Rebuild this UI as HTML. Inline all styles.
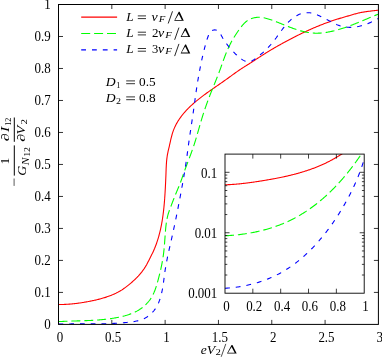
<!DOCTYPE html>
<html><head><meta charset="utf-8"><title>plot</title>
<style>
html,body{margin:0;padding:0;background:#fff;}
body{width:382px;height:357px;overflow:hidden;}
svg{display:block;}
text{font-family:"Liberation Serif",serif;font-size:13.8px;fill:#000;}
.it{font-style:italic;}
.sub{font-size:9px;}
</style></head><body>
<svg style="will-change:transform" width="382" height="357" viewBox="0 0 382 357">
<rect width="382" height="357" fill="#fff"/>
<defs>
<clipPath id="cm"><rect x="58.5" y="4.5" width="319.9" height="319.9"/></clipPath>
<clipPath id="ci"><rect x="225.0" y="154.1" width="139.2" height="139.1"/></clipPath>
</defs>
<!-- main curves -->
<g fill="none" stroke-width="1.1" clip-path="url(#cm)">
<path d="M58.48,304.48 L59.30,304.49 L60.12,304.49 L60.93,304.49 L61.75,304.48 L62.56,304.46 L63.37,304.44 L64.18,304.42 L64.99,304.38 L65.79,304.35 L66.60,304.31 L67.41,304.26 L68.21,304.21 L69.01,304.15 L69.82,304.09 L70.62,304.03 L71.42,303.96 L72.22,303.89 L73.02,303.81 L73.82,303.73 L74.61,303.64 L75.41,303.55 L76.21,303.45 L77.00,303.35 L77.80,303.25 L78.59,303.14 L79.39,303.03 L80.18,302.92 L80.98,302.80 L81.77,302.67 L82.57,302.55 L83.36,302.42 L84.15,302.29 L84.95,302.15 L85.74,302.01 L86.53,301.87 L87.33,301.72 L88.12,301.58 L88.91,301.42 L89.71,301.27 L90.50,301.11 L91.30,300.95 L92.09,300.79 L92.88,300.62 L93.68,300.45 L94.47,300.28 L95.26,300.10 L96.06,299.92 L96.85,299.73 L97.64,299.54 L98.43,299.35 L99.21,299.15 L100.00,298.94 L100.78,298.73 L101.56,298.52 L102.35,298.30 L103.12,298.07 L103.90,297.84 L104.67,297.60 L105.45,297.36 L106.22,297.11 L106.98,296.85 L107.75,296.59 L108.51,296.32 L109.26,296.04 L110.02,295.76 L110.77,295.47 L111.52,295.17 L112.26,294.86 L113.00,294.55 L113.73,294.22 L114.47,293.89 L115.19,293.55 L115.92,293.21 L116.63,292.85 L117.35,292.49 L118.06,292.11 L118.76,291.73 L119.46,291.34 L120.15,290.93 L120.84,290.52 L121.53,290.10 L122.20,289.67 L122.88,289.23 L123.54,288.78 L124.20,288.32 L124.86,287.85 L125.51,287.38 L126.16,286.90 L126.81,286.41 L127.44,285.92 L128.08,285.41 L128.71,284.91 L129.34,284.39 L129.96,283.87 L130.58,283.35 L131.19,282.82 L131.81,282.29 L132.41,281.75 L133.02,281.21 L133.62,280.66 L134.21,280.11 L134.80,279.55 L135.39,278.99 L135.97,278.43 L136.54,277.85 L137.10,277.28 L137.66,276.69 L138.22,276.11 L138.76,275.51 L139.30,274.91 L139.83,274.31 L140.36,273.69 L140.87,273.07 L141.38,272.45 L141.88,271.82 L142.36,271.18 L142.84,270.54 L143.31,269.89 L143.77,269.23 L144.23,268.57 L144.67,267.90 L145.10,267.22 L145.52,266.54 L145.93,265.85 L146.33,265.16 L146.73,264.46 L147.11,263.75 L147.49,263.04 L147.86,262.33 L148.23,261.61 L148.60,260.89 L148.96,260.17 L149.33,259.45 L149.69,258.73 L150.06,258.00 L150.43,257.28 L150.79,256.55 L151.16,255.82 L151.52,255.09 L151.88,254.36 L152.24,253.63 L152.59,252.90 L152.94,252.16 L153.28,251.43 L153.61,250.69 L153.93,249.95 L154.25,249.20 L154.57,248.46 L154.87,247.71 L155.17,246.96 L155.47,246.21 L155.76,245.46 L156.04,244.70 L156.32,243.94 L156.59,243.19 L156.85,242.42 L157.11,241.66 L157.36,240.90 L157.61,240.13 L157.85,239.37 L158.09,238.60 L158.32,237.83 L158.55,237.06 L158.77,236.28 L158.98,235.51 L159.19,234.73 L159.40,233.96 L159.60,233.18 L159.79,232.40 L159.99,231.62 L160.17,230.83 L160.35,230.05 L160.53,229.27 L160.70,228.48 L160.87,227.69 L161.04,226.90 L161.20,226.11 L161.35,225.32 L161.50,224.53 L161.65,223.74 L161.79,222.95 L161.93,222.15 L162.07,221.36 L162.20,220.56 L162.33,219.77 L162.46,218.97 L162.58,218.17 L162.70,217.37 L162.81,216.57 L162.92,215.77 L163.03,214.97 L163.14,214.17 L163.24,213.37 L163.34,212.57 L163.43,211.76 L163.53,210.96 L163.62,210.16 L163.71,209.35 L163.79,208.55 L163.88,207.74 L163.96,206.94 L164.03,206.13 L164.11,205.33 L164.18,204.52 L164.26,203.72 L164.33,202.91 L164.39,202.10 L164.46,201.30 L164.52,200.49 L164.58,199.68 L164.65,198.88 L164.70,198.07 L164.76,197.27 L164.82,196.46 L164.87,195.66 L164.92,194.85 L164.98,194.05 L165.03,193.24 L165.08,192.44 L165.12,191.63 L165.17,190.83 L165.22,190.02 L165.26,189.22 L165.31,188.42 L165.35,187.61 L165.39,186.81 L165.43,186.01 L165.47,185.20 L165.51,184.40 L165.55,183.60 L165.59,182.79 L165.63,181.99 L165.66,181.19 L165.70,180.38 L165.73,179.58 L165.77,178.77 L165.80,177.97 L165.83,177.16 L165.87,176.36 L165.90,175.55 L165.93,174.74 L165.96,173.94 L165.99,173.13 L166.02,172.32 L166.04,171.51 L166.07,170.70 L166.10,169.89 L166.13,169.08 L166.16,168.28 L166.20,167.47 L166.24,166.66 L166.28,165.85 L166.32,165.04 L166.37,164.23 L166.42,163.43 L166.48,162.62 L166.54,161.82 L166.61,161.01 L166.69,160.21 L166.77,159.41 L166.86,158.61 L166.96,157.81 L167.07,157.01 L167.18,156.22 L167.31,155.43 L167.44,154.64 L167.59,153.85 L167.74,153.06 L167.91,152.28 L168.08,151.49 L168.25,150.71 L168.44,149.93 L168.62,149.15 L168.80,148.37 L168.99,147.59 L169.17,146.80 L169.36,146.02 L169.53,145.23 L169.71,144.45 L169.88,143.66 L170.06,142.87 L170.23,142.08 L170.40,141.29 L170.58,140.50 L170.76,139.71 L170.94,138.92 L171.13,138.13 L171.33,137.34 L171.53,136.56 L171.74,135.77 L171.95,134.99 L172.18,134.21 L172.41,133.44 L172.65,132.67 L172.90,131.90 L173.17,131.14 L173.44,130.38 L173.73,129.63 L174.03,128.88 L174.34,128.14 L174.66,127.40 L174.99,126.67 L175.34,125.95 L175.69,125.23 L176.06,124.52 L176.44,123.82 L176.83,123.12 L177.23,122.42 L177.64,121.73 L178.05,121.05 L178.48,120.37 L178.92,119.70 L179.37,119.03 L179.82,118.37 L180.29,117.71 L180.76,117.06 L181.24,116.41 L181.73,115.77 L182.23,115.14 L182.73,114.51 L183.25,113.88 L183.77,113.26 L184.29,112.65 L184.83,112.04 L185.37,111.43 L185.91,110.83 L186.47,110.24 L187.02,109.65 L187.59,109.06 L188.16,108.48 L188.73,107.91 L189.31,107.33 L189.89,106.77 L190.48,106.21 L191.08,105.65 L191.67,105.10 L192.28,104.55 L192.88,104.00 L193.49,103.47 L194.10,102.93 L194.71,102.40 L195.33,101.88 L195.95,101.35 L196.57,100.84 L197.20,100.32 L197.82,99.82 L198.45,99.31 L199.08,98.81 L199.72,98.31 L200.35,97.82 L200.99,97.33 L201.63,96.84 L202.27,96.35 L202.91,95.87 L203.55,95.39 L204.20,94.91 L204.84,94.44 L205.49,93.97 L206.14,93.50 L206.79,93.03 L207.44,92.56 L208.10,92.10 L208.75,91.63 L209.41,91.17 L210.06,90.71 L210.72,90.25 L211.38,89.79 L212.04,89.33 L212.70,88.87 L213.36,88.41 L214.02,87.95 L214.69,87.49 L215.35,87.03 L216.02,86.57 L216.68,86.11 L217.35,85.66 L218.01,85.20 L218.68,84.74 L219.34,84.28 L220.01,83.82 L220.67,83.35 L221.34,82.89 L222.00,82.43 L222.66,81.97 L223.33,81.50 L223.99,81.04 L224.65,80.57 L225.31,80.11 L225.97,79.64 L226.63,79.17 L227.29,78.70 L227.94,78.23 L228.60,77.76 L229.25,77.28 L229.90,76.81 L230.55,76.33 L231.21,75.86 L231.86,75.38 L232.51,74.91 L233.16,74.43 L233.81,73.96 L234.46,73.49 L235.12,73.02 L235.77,72.55 L236.43,72.08 L237.09,71.62 L237.75,71.16 L238.41,70.70 L239.07,70.25 L239.74,69.80 L240.41,69.35 L241.08,68.91 L241.76,68.46 L242.43,68.03 L243.11,67.59 L243.79,67.16 L244.48,66.73 L245.16,66.30 L245.84,65.87 L246.53,65.44 L247.21,65.01 L247.89,64.59 L248.58,64.16 L249.26,63.73 L249.94,63.30 L250.62,62.86 L251.30,62.43 L251.98,61.99 L252.66,61.55 L253.34,61.12 L254.01,60.68 L254.69,60.24 L255.36,59.80 L256.04,59.35 L256.71,58.91 L257.39,58.47 L258.06,58.03 L258.74,57.59 L259.42,57.15 L260.09,56.71 L260.77,56.27 L261.45,55.84 L262.13,55.40 L262.80,54.97 L263.49,54.54 L264.17,54.11 L264.85,53.68 L265.53,53.25 L266.22,52.83 L266.91,52.40 L267.59,51.98 L268.28,51.56 L268.97,51.14 L269.66,50.72 L270.35,50.31 L271.04,49.89 L271.74,49.48 L272.43,49.07 L273.13,48.66 L273.82,48.25 L274.52,47.85 L275.22,47.44 L275.92,47.04 L276.62,46.64 L277.32,46.24 L278.02,45.84 L278.72,45.44 L279.43,45.05 L280.13,44.65 L280.84,44.26 L281.54,43.87 L282.25,43.48 L282.96,43.09 L283.66,42.70 L284.37,42.32 L285.08,41.93 L285.79,41.55 L286.50,41.16 L287.22,40.78 L287.93,40.40 L288.64,40.02 L289.35,39.65 L290.07,39.27 L290.78,38.90 L291.50,38.52 L292.22,38.15 L292.93,37.78 L293.65,37.41 L294.37,37.05 L295.09,36.68 L295.81,36.32 L296.53,35.96 L297.25,35.59 L297.98,35.24 L298.70,34.88 L299.42,34.52 L300.15,34.17 L300.87,33.81 L301.60,33.46 L302.33,33.11 L303.06,32.77 L303.79,32.42 L304.52,32.08 L305.25,31.74 L305.98,31.40 L306.71,31.06 L307.44,30.72 L308.18,30.39 L308.91,30.06 L309.65,29.72 L310.38,29.40 L311.12,29.07 L311.86,28.75 L312.60,28.42 L313.34,28.10 L314.08,27.79 L314.82,27.47 L315.56,27.16 L316.31,26.84 L317.05,26.53 L317.80,26.23 L318.54,25.92 L319.29,25.62 L320.04,25.32 L320.79,25.02 L321.54,24.73 L322.29,24.43 L323.04,24.14 L323.79,23.85 L324.55,23.57 L325.30,23.28 L326.06,23.00 L326.81,22.72 L327.57,22.45 L328.33,22.17 L329.09,21.90 L329.85,21.63 L330.61,21.37 L331.37,21.10 L332.14,20.84 L332.90,20.59 L333.67,20.33 L334.43,20.08 L335.20,19.83 L335.97,19.58 L336.74,19.34 L337.51,19.09 L338.28,18.86 L339.06,18.62 L339.83,18.38 L340.60,18.15 L341.38,17.92 L342.15,17.69 L342.93,17.47 L343.70,17.24 L344.48,17.01 L345.26,16.79 L346.03,16.56 L346.81,16.34 L347.58,16.11 L348.36,15.89 L349.13,15.66 L349.91,15.44 L350.68,15.21 L351.45,14.98 L352.23,14.76 L353.00,14.53 L353.77,14.31 L354.55,14.09 L355.32,13.87 L356.10,13.66 L356.88,13.46 L357.66,13.26 L358.44,13.07 L359.23,12.89 L360.01,12.72 L360.80,12.55 L361.59,12.40 L362.38,12.25 L363.18,12.11 L363.97,11.97 L364.77,11.85 L365.57,11.73 L366.37,11.61 L367.17,11.50 L367.97,11.39 L368.78,11.29 L369.58,11.19 L370.38,11.09 L371.19,11.00 L371.99,10.91 L372.79,10.82 L373.60,10.73 L374.40,10.64 L375.20,10.55 L376.00,10.47 L376.80,10.38 L377.60,10.29 L378.40,10.20" stroke="#f00"/>
<path d="M58.49,321.62 L59.38,321.57 L60.28,321.52 L61.17,321.48 L62.06,321.44 L62.95,321.40 L63.85,321.36 L64.74,321.32 L65.63,321.29 L66.52,321.25 L67.41,321.22 L68.31,321.19 L69.20,321.16 L70.09,321.13 L70.98,321.10 L71.87,321.07 L72.76,321.05 L73.65,321.02 L74.54,320.99 L75.43,320.97 L76.32,320.94 L77.21,320.92 L78.10,320.89 L78.98,320.86 L79.87,320.84 L80.76,320.81 L81.65,320.78 L82.54,320.75 L83.43,320.72 L84.31,320.69 L85.20,320.66 L86.09,320.62 L86.98,320.59 L87.86,320.55 L88.75,320.51 L89.64,320.47 L90.52,320.43 L91.41,320.38 L92.30,320.33 L93.18,320.28 L94.07,320.23 L94.95,320.18 L95.84,320.12 L96.72,320.06 L97.61,320.00 L98.49,319.93 L99.38,319.86 L100.26,319.78 L101.15,319.71 L102.03,319.63 L102.92,319.54 L103.80,319.45 L104.68,319.36 L105.57,319.26 L106.45,319.16 L107.34,319.06 L108.22,318.95 L109.10,318.83 L109.98,318.71 L110.87,318.59 L111.75,318.46 L112.63,318.32 L113.52,318.18 L114.40,318.04 L115.28,317.89 L116.16,317.73 L117.04,317.56 L117.93,317.40 L118.81,317.22 L119.69,317.04 L120.56,316.84 L121.44,316.65 L122.31,316.44 L123.18,316.22 L124.05,316.00 L124.92,315.77 L125.78,315.52 L126.64,315.27 L127.49,315.00 L128.34,314.73 L129.18,314.44 L130.02,314.14 L130.85,313.83 L131.68,313.51 L132.50,313.17 L133.31,312.82 L134.12,312.46 L134.92,312.09 L135.71,311.69 L136.50,311.29 L137.28,310.87 L138.04,310.43 L138.80,309.98 L139.55,309.51 L140.29,309.02 L141.02,308.52 L141.74,308.00 L142.45,307.46 L143.15,306.91 L143.83,306.34 L144.51,305.75 L145.17,305.15 L145.81,304.53 L146.44,303.90 L147.06,303.25 L147.66,302.59 L148.24,301.92 L148.81,301.23 L149.36,300.53 L149.90,299.81 L150.41,299.09 L150.90,298.35 L151.38,297.60 L151.83,296.84 L152.27,296.07 L152.69,295.29 L153.09,294.50 L153.47,293.70 L153.84,292.90 L154.19,292.08 L154.53,291.26 L154.86,290.43 L155.17,289.60 L155.47,288.76 L155.76,287.92 L156.04,287.07 L156.32,286.21 L156.58,285.36 L156.84,284.50 L157.09,283.64 L157.34,282.77 L157.58,281.91 L157.82,281.04 L158.05,280.18 L158.28,279.31 L158.51,278.45 L158.74,277.58 L158.96,276.72 L159.19,275.85 L159.40,274.99 L159.62,274.12 L159.83,273.26 L160.04,272.39 L160.25,271.52 L160.45,270.66 L160.65,269.79 L160.84,268.92 L161.04,268.06 L161.22,267.19 L161.41,266.32 L161.59,265.45 L161.76,264.58 L161.93,263.71 L162.10,262.84 L162.26,261.97 L162.42,261.09 L162.57,260.22 L162.72,259.35 L162.86,258.47 L163.00,257.59 L163.13,256.72 L163.25,255.84 L163.38,254.96 L163.49,254.08 L163.60,253.20 L163.71,252.31 L163.81,251.43 L163.90,250.54 L164.00,249.66 L164.08,248.77 L164.17,247.89 L164.25,247.00 L164.33,246.11 L164.40,245.22 L164.48,244.33 L164.55,243.44 L164.62,242.55 L164.68,241.66 L164.75,240.77 L164.81,239.88 L164.88,238.99 L164.94,238.10 L165.00,237.21 L165.07,236.31 L165.13,235.42 L165.20,234.53 L165.26,233.64 L165.33,232.75 L165.40,231.86 L165.47,230.97 L165.54,230.08 L165.62,229.20 L165.70,228.31 L165.78,227.42 L165.88,226.54 L165.97,225.65 L166.08,224.77 L166.19,223.89 L166.31,223.01 L166.44,222.13 L166.58,221.26 L166.73,220.39 L166.88,219.52 L167.06,218.65 L167.24,217.78 L167.43,216.92 L167.64,216.06 L167.86,215.20 L168.10,214.35 L168.35,213.50 L168.62,212.65 L168.90,211.80 L169.18,210.96 L169.48,210.12 L169.79,209.28 L170.10,208.44 L170.41,207.60 L170.73,206.77 L171.05,205.93 L171.37,205.10 L171.68,204.26 L172.00,203.43 L172.32,202.60 L172.64,201.76 L172.96,200.93 L173.28,200.10 L173.61,199.27 L173.93,198.44 L174.26,197.61 L174.59,196.79 L174.92,195.96 L175.26,195.14 L175.59,194.31 L175.93,193.49 L176.28,192.67 L176.62,191.85 L176.96,191.03 L177.31,190.21 L177.65,189.39 L178.00,188.57 L178.34,187.75 L178.68,186.93 L179.01,186.10 L179.35,185.28 L179.68,184.46 L180.00,183.63 L180.32,182.80 L180.64,181.97 L180.95,181.13 L181.25,180.30 L181.55,179.46 L181.85,178.62 L182.15,177.78 L182.44,176.94 L182.73,176.10 L183.03,175.26 L183.32,174.42 L183.61,173.58 L183.90,172.74 L184.20,171.90 L184.50,171.06 L184.80,170.22 L185.10,169.38 L185.40,168.54 L185.71,167.71 L186.02,166.87 L186.33,166.04 L186.64,165.20 L186.95,164.37 L187.26,163.54 L187.58,162.70 L187.89,161.87 L188.21,161.04 L188.52,160.20 L188.84,159.37 L189.15,158.54 L189.47,157.70 L189.78,156.87 L190.09,156.04 L190.41,155.20 L190.72,154.37 L191.02,153.54 L191.33,152.70 L191.63,151.86 L191.94,151.03 L192.24,150.19 L192.53,149.35 L192.83,148.51 L193.12,147.67 L193.40,146.83 L193.69,145.99 L193.97,145.14 L194.24,144.30 L194.52,143.45 L194.79,142.60 L195.05,141.75 L195.32,140.90 L195.58,140.05 L195.84,139.20 L196.09,138.35 L196.35,137.50 L196.60,136.64 L196.85,135.79 L197.10,134.93 L197.34,134.08 L197.59,133.22 L197.84,132.37 L198.08,131.51 L198.33,130.66 L198.57,129.80 L198.81,128.94 L199.06,128.09 L199.30,127.23 L199.55,126.37 L199.79,125.52 L200.04,124.66 L200.29,123.81 L200.54,122.95 L200.79,122.10 L201.04,121.24 L201.29,120.39 L201.55,119.54 L201.80,118.68 L202.06,117.83 L202.33,116.98 L202.59,116.13 L202.86,115.28 L203.13,114.43 L203.40,113.59 L203.68,112.74 L203.96,111.89 L204.24,111.05 L204.52,110.20 L204.80,109.36 L205.09,108.52 L205.38,107.68 L205.67,106.83 L205.97,105.99 L206.26,105.15 L206.56,104.32 L206.86,103.48 L207.16,102.64 L207.47,101.80 L207.77,100.97 L208.08,100.13 L208.39,99.30 L208.71,98.47 L209.02,97.63 L209.34,96.80 L209.65,95.97 L209.97,95.14 L210.30,94.31 L210.62,93.48 L210.94,92.66 L211.27,91.83 L211.60,91.00 L211.93,90.18 L212.26,89.35 L212.59,88.53 L212.93,87.70 L213.26,86.88 L213.60,86.06 L213.94,85.24 L214.27,84.41 L214.61,83.59 L214.95,82.77 L215.28,81.95 L215.62,81.12 L215.96,80.30 L216.29,79.48 L216.62,78.65 L216.95,77.83 L217.28,77.00 L217.61,76.17 L217.93,75.34 L218.25,74.51 L218.57,73.68 L218.89,72.85 L219.20,72.01 L219.51,71.18 L219.82,70.34 L220.12,69.50 L220.43,68.66 L220.73,67.82 L221.03,66.98 L221.33,66.14 L221.63,65.30 L221.93,64.46 L222.22,63.61 L222.52,62.77 L222.82,61.93 L223.12,61.09 L223.43,60.25 L223.73,59.41 L224.04,58.58 L224.35,57.74 L224.66,56.91 L224.98,56.07 L225.30,55.24 L225.62,54.41 L225.94,53.59 L226.28,52.76 L226.61,51.94 L226.95,51.12 L227.30,50.31 L227.65,49.49 L228.01,48.68 L228.38,47.88 L228.75,47.07 L229.13,46.27 L229.52,45.48 L229.91,44.69 L230.31,43.90 L230.72,43.12 L231.14,42.33 L231.56,41.56 L231.99,40.78 L232.43,40.01 L232.87,39.24 L233.32,38.48 L233.77,37.71 L234.24,36.95 L234.71,36.20 L235.18,35.44 L235.67,34.69 L236.16,33.94 L236.65,33.19 L237.15,32.45 L237.66,31.71 L238.18,30.97 L238.70,30.23 L239.23,29.49 L239.76,28.76 L240.30,28.03 L240.85,27.30 L241.41,26.58 L241.97,25.88 L242.55,25.18 L243.14,24.51 L243.75,23.85 L244.37,23.21 L245.01,22.59 L245.66,22.00 L246.33,21.44 L247.03,20.90 L247.74,20.40 L248.48,19.94 L249.23,19.51 L250.02,19.13 L250.82,18.78 L251.64,18.47 L252.47,18.19 L253.32,17.95 L254.18,17.75 L255.06,17.59 L255.93,17.46 L256.82,17.37 L257.71,17.32 L258.59,17.30 L259.48,17.31 L260.37,17.35 L261.26,17.43 L262.14,17.54 L263.02,17.67 L263.90,17.83 L264.78,18.01 L265.66,18.21 L266.53,18.43 L267.40,18.67 L268.27,18.92 L269.13,19.19 L269.99,19.47 L270.85,19.75 L271.70,20.04 L272.54,20.34 L273.39,20.65 L274.23,20.96 L275.06,21.27 L275.90,21.59 L276.73,21.91 L277.55,22.24 L278.38,22.56 L279.20,22.89 L280.03,23.22 L280.85,23.56 L281.67,23.89 L282.49,24.23 L283.31,24.56 L284.13,24.90 L284.95,25.23 L285.77,25.56 L286.59,25.89 L287.41,26.22 L288.23,26.55 L289.06,26.87 L289.89,27.19 L290.72,27.51 L291.55,27.82 L292.38,28.13 L293.22,28.43 L294.06,28.73 L294.91,29.02 L295.75,29.31 L296.60,29.59 L297.45,29.86 L298.31,30.13 L299.16,30.38 L300.02,30.63 L300.88,30.87 L301.74,31.10 L302.61,31.32 L303.47,31.53 L304.34,31.73 L305.21,31.92 L306.08,32.10 L306.96,32.26 L307.83,32.42 L308.71,32.56 L309.59,32.68 L310.47,32.80 L311.35,32.90 L312.23,32.99 L313.11,33.06 L313.99,33.11 L314.88,33.16 L315.76,33.18 L316.65,33.19 L317.54,33.18 L318.42,33.16 L319.31,33.13 L320.20,33.08 L321.09,33.02 L321.97,32.94 L322.86,32.85 L323.75,32.75 L324.63,32.64 L325.52,32.51 L326.40,32.38 L327.29,32.23 L328.17,32.08 L329.05,31.91 L329.93,31.74 L330.80,31.55 L331.68,31.36 L332.55,31.16 L333.42,30.96 L334.29,30.74 L335.15,30.52 L336.02,30.29 L336.88,30.06 L337.73,29.82 L338.59,29.57 L339.44,29.32 L340.30,29.06 L341.15,28.80 L341.99,28.53 L342.84,28.26 L343.68,27.98 L344.53,27.70 L345.37,27.41 L346.20,27.12 L347.04,26.82 L347.88,26.52 L348.71,26.22 L349.55,25.91 L350.38,25.60 L351.21,25.28 L352.04,24.96 L352.87,24.64 L353.69,24.32 L354.52,23.99 L355.35,23.66 L356.17,23.33 L356.99,23.00 L357.82,22.66 L358.64,22.33 L359.46,21.99 L360.28,21.65 L361.11,21.30 L361.93,20.96 L362.75,20.62 L363.57,20.27 L364.39,19.93 L365.21,19.58 L366.03,19.24 L366.85,18.89 L367.67,18.54 L368.49,18.20 L369.31,17.85 L370.13,17.51 L370.96,17.17 L371.78,16.82 L372.60,16.48 L373.42,16.14 L374.25,15.80 L375.07,15.47 L375.90,15.13 L376.73,14.80 L377.55,14.47 L378.38,14.14" stroke="#0f0" stroke-dasharray="9 3.9"/>
<path d="M58.50,324.12 L59.49,324.09 L60.48,324.07 L61.47,324.05 L62.46,324.03 L63.45,324.01 L64.43,323.99 L65.42,323.98 L66.41,323.96 L67.40,323.95 L68.39,323.94 L69.38,323.94 L70.37,323.93 L71.36,323.92 L72.35,323.92 L73.33,323.92 L74.32,323.91 L75.31,323.91 L76.30,323.91 L77.29,323.91 L78.27,323.91 L79.26,323.91 L80.25,323.91 L81.24,323.91 L82.22,323.91 L83.21,323.92 L84.20,323.92 L85.18,323.92 L86.17,323.92 L87.16,323.92 L88.14,323.92 L89.13,323.92 L90.12,323.92 L91.10,323.91 L92.09,323.91 L93.08,323.91 L94.06,323.90 L95.05,323.89 L96.04,323.89 L97.02,323.88 L98.01,323.87 L99.00,323.85 L99.98,323.84 L100.97,323.82 L101.96,323.81 L102.94,323.79 L103.93,323.76 L104.91,323.74 L105.90,323.71 L106.89,323.68 L107.87,323.65 L108.86,323.62 L109.85,323.58 L110.83,323.54 L111.82,323.50 L112.81,323.45 L113.79,323.41 L114.78,323.35 L115.77,323.30 L116.75,323.24 L117.74,323.18 L118.73,323.11 L119.71,323.04 L120.70,322.97 L121.69,322.89 L122.67,322.81 L123.66,322.72 L124.65,322.64 L125.64,322.54 L126.62,322.44 L127.61,322.34 L128.60,322.23 L129.59,322.12 L130.57,322.00 L131.56,321.88 L132.55,321.74 L133.53,321.60 L134.51,321.44 L135.48,321.26 L136.45,321.07 L137.41,320.86 L138.37,320.62 L139.32,320.37 L140.26,320.08 L141.19,319.77 L142.11,319.43 L143.02,319.05 L143.92,318.65 L144.80,318.20 L145.67,317.73 L146.53,317.23 L147.37,316.69 L148.18,316.13 L148.98,315.54 L149.76,314.93 L150.51,314.28 L151.25,313.62 L151.95,312.93 L152.63,312.21 L153.28,311.48 L153.91,310.73 L154.50,309.95 L155.08,309.16 L155.62,308.35 L156.14,307.52 L156.64,306.68 L157.11,305.82 L157.56,304.95 L157.99,304.06 L158.40,303.16 L158.79,302.25 L159.15,301.33 L159.50,300.40 L159.83,299.46 L160.15,298.51 L160.44,297.56 L160.73,296.60 L160.99,295.63 L161.24,294.66 L161.48,293.68 L161.71,292.71 L161.92,291.73 L162.12,290.75 L162.31,289.77 L162.50,288.79 L162.67,287.81 L162.83,286.83 L162.99,285.85 L163.14,284.87 L163.28,283.90 L163.42,282.92 L163.56,281.94 L163.69,280.96 L163.82,279.99 L163.95,279.01 L164.07,278.04 L164.20,277.06 L164.32,276.09 L164.45,275.12 L164.58,274.14 L164.71,273.17 L164.85,272.20 L164.98,271.23 L165.13,270.25 L165.28,269.28 L165.43,268.31 L165.59,267.34 L165.76,266.37 L165.93,265.40 L166.10,264.43 L166.28,263.46 L166.46,262.49 L166.64,261.53 L166.83,260.56 L167.02,259.59 L167.22,258.62 L167.41,257.65 L167.61,256.69 L167.82,255.72 L168.02,254.75 L168.23,253.79 L168.44,252.82 L168.65,251.85 L168.86,250.89 L169.08,249.92 L169.29,248.96 L169.51,247.99 L169.73,247.02 L169.94,246.06 L170.16,245.09 L170.38,244.13 L170.60,243.16 L170.82,242.20 L171.04,241.23 L171.26,240.26 L171.47,239.30 L171.69,238.33 L171.90,237.37 L172.12,236.40 L172.33,235.44 L172.55,234.47 L172.76,233.50 L172.97,232.54 L173.18,231.57 L173.39,230.61 L173.59,229.64 L173.80,228.67 L174.01,227.71 L174.21,226.74 L174.42,225.78 L174.62,224.81 L174.82,223.84 L175.03,222.88 L175.23,221.91 L175.43,220.94 L175.63,219.98 L175.82,219.01 L176.02,218.04 L176.22,217.07 L176.41,216.11 L176.61,215.14 L176.80,214.17 L177.00,213.20 L177.19,212.24 L177.38,211.27 L177.57,210.30 L177.77,209.33 L177.96,208.36 L178.14,207.39 L178.33,206.43 L178.52,205.46 L178.71,204.49 L178.89,203.52 L179.08,202.55 L179.27,201.58 L179.45,200.61 L179.63,199.64 L179.82,198.67 L180.00,197.70 L180.18,196.73 L180.36,195.76 L180.54,194.79 L180.72,193.82 L180.90,192.85 L181.08,191.88 L181.26,190.90 L181.44,189.93 L181.61,188.96 L181.79,187.99 L181.97,187.02 L182.14,186.04 L182.32,185.07 L182.49,184.10 L182.66,183.13 L182.84,182.15 L183.01,181.18 L183.18,180.21 L183.35,179.23 L183.52,178.26 L183.69,177.28 L183.86,176.31 L184.03,175.33 L184.19,174.36 L184.35,173.38 L184.52,172.41 L184.68,171.43 L184.84,170.46 L185.00,169.48 L185.15,168.51 L185.31,167.53 L185.46,166.55 L185.61,165.58 L185.76,164.60 L185.90,163.62 L186.05,162.65 L186.19,161.67 L186.33,160.69 L186.47,159.71 L186.61,158.74 L186.74,157.76 L186.87,156.78 L187.01,155.80 L187.14,154.83 L187.27,153.85 L187.40,152.87 L187.53,151.89 L187.66,150.91 L187.79,149.94 L187.92,148.96 L188.05,147.98 L188.18,147.00 L188.31,146.02 L188.45,145.04 L188.58,144.07 L188.71,143.09 L188.85,142.11 L188.99,141.13 L189.13,140.15 L189.27,139.18 L189.41,138.20 L189.55,137.22 L189.69,136.24 L189.84,135.26 L189.98,134.29 L190.13,133.31 L190.27,132.33 L190.42,131.35 L190.56,130.37 L190.71,129.40 L190.86,128.42 L191.01,127.44 L191.15,126.46 L191.30,125.49 L191.45,124.51 L191.60,123.53 L191.74,122.55 L191.89,121.58 L192.04,120.60 L192.18,119.62 L192.33,118.64 L192.48,117.67 L192.62,116.69 L192.76,115.71 L192.91,114.73 L193.05,113.76 L193.19,112.78 L193.33,111.80 L193.47,110.83 L193.61,109.85 L193.74,108.87 L193.88,107.89 L194.02,106.92 L194.15,105.94 L194.28,104.96 L194.42,103.99 L194.55,103.01 L194.68,102.03 L194.82,101.06 L194.95,100.08 L195.09,99.10 L195.22,98.12 L195.36,97.15 L195.49,96.17 L195.63,95.19 L195.76,94.22 L195.90,93.24 L196.04,92.26 L196.18,91.28 L196.33,90.31 L196.47,89.33 L196.62,88.35 L196.76,87.37 L196.91,86.39 L197.06,85.42 L197.22,84.44 L197.37,83.46 L197.53,82.48 L197.69,81.50 L197.85,80.53 L198.01,79.55 L198.18,78.57 L198.35,77.59 L198.51,76.62 L198.69,75.64 L198.86,74.67 L199.04,73.69 L199.21,72.72 L199.39,71.74 L199.58,70.77 L199.76,69.80 L199.95,68.82 L200.14,67.85 L200.33,66.88 L200.52,65.91 L200.72,64.94 L200.91,63.98 L201.12,63.01 L201.32,62.04 L201.52,61.08 L201.73,60.12 L201.94,59.15 L202.16,58.19 L202.37,57.23 L202.59,56.28 L202.81,55.32 L203.03,54.36 L203.26,53.41 L203.49,52.46 L203.72,51.50 L203.95,50.55 L204.19,49.61 L204.43,48.66 L204.67,47.71 L204.91,46.77 L205.16,45.83 L205.41,44.89 L205.67,43.95 L205.94,43.00 L206.22,42.05 L206.50,41.10 L206.80,40.14 L207.11,39.18 L207.44,38.21 L207.79,37.22 L208.15,36.23 L208.54,35.24 L208.96,34.28 L209.44,33.36 L209.97,32.50 L210.58,31.74 L211.27,31.08 L212.05,30.55 L212.91,30.17 L213.82,29.94 L214.76,29.88 L215.69,29.99 L216.61,30.27 L217.46,30.69 L218.24,31.24 L218.94,31.90 L219.58,32.66 L220.15,33.48 L220.69,34.36 L221.20,35.27 L221.70,36.19 L222.20,37.11 L222.71,38.01 L223.24,38.88 L223.77,39.74 L224.32,40.58 L224.87,41.40 L225.44,42.21 L226.01,43.01 L226.59,43.79 L227.18,44.57 L227.78,45.33 L228.39,46.08 L229.01,46.83 L229.63,47.57 L230.25,48.31 L230.89,49.05 L231.53,49.78 L232.18,50.50 L232.84,51.22 L233.51,51.93 L234.19,52.64 L234.89,53.35 L235.59,54.04 L236.31,54.73 L237.04,55.41 L237.79,56.09 L238.55,56.75 L239.34,57.41 L240.13,58.06 L240.95,58.69 L241.78,59.30 L242.63,59.87 L243.50,60.39 L244.38,60.84 L245.27,61.23 L246.17,61.53 L247.09,61.73 L248.02,61.82 L248.95,61.80 L249.89,61.66 L250.81,61.41 L251.71,61.05 L252.58,60.59 L253.42,60.06 L254.25,59.47 L255.06,58.85 L255.87,58.21 L256.66,57.57 L257.46,56.94 L258.25,56.33 L259.04,55.72 L259.82,55.12 L260.59,54.51 L261.36,53.90 L262.12,53.28 L262.87,52.66 L263.61,52.02 L264.34,51.37 L265.06,50.70 L265.77,50.02 L266.47,49.34 L267.16,48.64 L267.84,47.93 L268.51,47.21 L269.18,46.48 L269.84,45.74 L270.49,45.00 L271.13,44.25 L271.77,43.49 L272.39,42.72 L273.02,41.95 L273.63,41.17 L274.24,40.38 L274.84,39.59 L275.44,38.80 L276.04,38.01 L276.62,37.21 L277.21,36.40 L277.79,35.60 L278.37,34.80 L278.94,33.99 L279.52,33.19 L280.10,32.39 L280.68,31.59 L281.26,30.79 L281.85,30.00 L282.44,29.21 L283.03,28.42 L283.64,27.65 L284.25,26.88 L284.87,26.11 L285.50,25.36 L286.14,24.61 L286.79,23.87 L287.45,23.14 L288.13,22.43 L288.83,21.73 L289.54,21.03 L290.26,20.36 L291.01,19.69 L291.77,19.05 L292.54,18.42 L293.34,17.82 L294.14,17.24 L294.97,16.68 L295.81,16.15 L296.66,15.65 L297.53,15.18 L298.41,14.75 L299.31,14.35 L300.22,13.99 L301.15,13.67 L302.09,13.39 L303.04,13.15 L304.00,12.97 L304.98,12.82 L305.97,12.73 L306.96,12.68 L307.96,12.68 L308.96,12.73 L309.95,12.81 L310.94,12.95 L311.92,13.12 L312.89,13.34 L313.85,13.60 L314.79,13.90 L315.71,14.24 L316.63,14.61 L317.53,15.00 L318.42,15.41 L319.31,15.84 L320.19,16.28 L321.07,16.73 L321.95,17.18 L322.83,17.63 L323.72,18.07 L324.61,18.50 L325.50,18.93 L326.38,19.36 L327.27,19.79 L328.16,20.23 L329.04,20.68 L329.92,21.13 L330.79,21.60 L331.67,22.07 L332.54,22.53 L333.42,22.99 L334.30,23.44 L335.19,23.87 L336.09,24.29 L336.99,24.68 L337.91,25.04 L338.84,25.38 L339.77,25.70 L340.72,25.99 L341.67,26.26 L342.62,26.49 L343.59,26.70 L344.56,26.88 L345.53,27.03 L346.51,27.15 L347.49,27.24 L348.48,27.30 L349.47,27.33 L350.46,27.33 L351.45,27.31 L352.44,27.25 L353.43,27.18 L354.42,27.08 L355.40,26.96 L356.38,26.81 L357.36,26.65 L358.33,26.46 L359.29,26.26 L360.26,26.03 L361.21,25.79 L362.16,25.53 L363.11,25.26 L364.05,24.96 L364.99,24.65 L365.92,24.33 L366.85,23.99 L367.77,23.63 L368.68,23.26 L369.59,22.88 L370.50,22.48 L371.40,22.07 L372.29,21.65 L373.18,21.22 L374.07,20.77 L374.94,20.32 L375.82,19.85 L376.68,19.38 L377.55,18.89 L378.40,18.40" stroke="#00f" stroke-dasharray="4.76 5.98"/>
</g>
<!-- inset bg -->
<rect x="225.0" y="154.1" width="139.2" height="139.1" fill="#fff"/>
<g fill="none" stroke-width="1.1" clip-path="url(#ci)">
<path d="M225.02,184.79 L225.66,184.77 L226.30,184.75 L226.94,184.73 L227.57,184.70 L228.21,184.67 L228.85,184.64 L229.49,184.61 L230.12,184.58 L230.76,184.54 L231.39,184.50 L232.03,184.46 L232.67,184.42 L233.30,184.37 L233.94,184.33 L234.57,184.28 L235.21,184.23 L235.84,184.18 L236.48,184.12 L237.11,184.07 L237.75,184.01 L238.38,183.95 L239.02,183.89 L239.65,183.83 L240.29,183.77 L240.92,183.70 L241.55,183.63 L242.19,183.57 L242.82,183.50 L243.45,183.42 L244.09,183.35 L244.72,183.28 L245.35,183.20 L245.99,183.12 L246.62,183.05 L247.25,182.97 L247.88,182.89 L248.52,182.80 L249.15,182.72 L249.78,182.64 L250.41,182.55 L251.05,182.46 L251.68,182.38 L252.31,182.29 L252.94,182.20 L253.58,182.11 L254.21,182.02 L254.84,181.92 L255.47,181.83 L256.10,181.73 L256.73,181.64 L257.37,181.54 L258.00,181.45 L258.63,181.35 L259.26,181.25 L259.89,181.15 L260.52,181.05 L261.16,180.95 L261.79,180.85 L262.42,180.75 L263.05,180.65 L263.68,180.54 L264.31,180.44 L264.94,180.33 L265.57,180.23 L266.21,180.12 L266.84,180.02 L267.47,179.91 L268.10,179.80 L268.73,179.69 L269.36,179.58 L269.99,179.47 L270.62,179.36 L271.25,179.25 L271.88,179.14 L272.51,179.02 L273.14,178.91 L273.77,178.79 L274.40,178.67 L275.03,178.56 L275.66,178.44 L276.29,178.32 L276.91,178.19 L277.54,178.07 L278.17,177.95 L278.80,177.82 L279.42,177.70 L280.05,177.57 L280.68,177.44 L281.31,177.31 L281.93,177.18 L282.56,177.05 L283.18,176.92 L283.81,176.78 L284.43,176.65 L285.06,176.51 L285.68,176.37 L286.30,176.23 L286.93,176.09 L287.55,175.94 L288.17,175.80 L288.80,175.65 L289.42,175.51 L290.04,175.36 L290.66,175.21 L291.28,175.06 L291.90,174.90 L292.52,174.75 L293.14,174.59 L293.76,174.43 L294.38,174.27 L294.99,174.11 L295.61,173.95 L296.23,173.78 L296.84,173.61 L297.46,173.45 L298.07,173.28 L298.69,173.10 L299.30,172.93 L299.91,172.75 L300.53,172.58 L301.14,172.40 L301.75,172.21 L302.36,172.03 L302.97,171.84 L303.58,171.66 L304.19,171.47 L304.80,171.28 L305.40,171.08 L306.01,170.89 L306.61,170.69 L307.22,170.49 L307.82,170.29 L308.43,170.09 L309.03,169.88 L309.63,169.67 L310.23,169.46 L310.83,169.25 L311.43,169.03 L312.03,168.82 L312.63,168.60 L313.22,168.38 L313.82,168.15 L314.42,167.93 L315.01,167.70 L315.60,167.47 L316.20,167.23 L316.79,167.00 L317.38,166.76 L317.97,166.52 L318.55,166.27 L319.14,166.03 L319.73,165.78 L320.31,165.53 L320.90,165.28 L321.48,165.02 L322.06,164.76 L322.64,164.50 L323.22,164.24 L323.80,163.97 L324.38,163.70 L324.96,163.43 L325.53,163.16 L326.11,162.88 L326.68,162.60 L327.25,162.32 L327.82,162.03 L328.39,161.74 L328.96,161.45 L329.53,161.16 L330.09,160.87 L330.66,160.57 L331.22,160.27 L331.79,159.96 L332.35,159.66 L332.91,159.35 L333.47,159.04 L334.02,158.72 L334.58,158.41 L335.14,158.09 L335.69,157.77 L336.24,157.44 L336.79,157.12 L337.34,156.79 L337.89,156.46 L338.44,156.12 L338.99,155.79 L339.53,155.45 L340.08,155.11 L340.62,154.76 L341.16,154.42 L341.70,154.07 L342.24,153.71 L342.78,153.36 L343.31,153.00 L343.85,152.64 L344.38,152.28 L344.91,151.92 L345.45,151.55 L345.98,151.18" stroke="#f00"/>
<path d="M225.03,235.77 L225.87,235.73 L226.71,235.69 L227.55,235.64 L228.39,235.59 L229.23,235.53 L230.08,235.48 L230.92,235.41 L231.76,235.35 L232.60,235.28 L233.45,235.21 L234.29,235.13 L235.13,235.05 L235.97,234.97 L236.82,234.88 L237.66,234.79 L238.50,234.70 L239.35,234.60 L240.19,234.50 L241.03,234.39 L241.87,234.28 L242.72,234.17 L243.56,234.05 L244.40,233.93 L245.24,233.81 L246.08,233.68 L246.92,233.55 L247.76,233.41 L248.60,233.27 L249.44,233.13 L250.28,232.98 L251.12,232.83 L251.95,232.68 L252.79,232.52 L253.62,232.35 L254.46,232.19 L255.29,232.01 L256.13,231.84 L256.96,231.66 L257.79,231.47 L258.62,231.29 L259.45,231.10 L260.28,230.90 L261.11,230.70 L261.93,230.49 L262.76,230.29 L263.58,230.07 L264.40,229.86 L265.23,229.64 L266.05,229.41 L266.87,229.18 L267.68,228.95 L268.50,228.71 L269.31,228.46 L270.13,228.22 L270.94,227.97 L271.75,227.71 L272.56,227.45 L273.37,227.18 L274.17,226.92 L274.98,226.64 L275.78,226.36 L276.58,226.08 L277.38,225.79 L278.17,225.50 L278.97,225.20 L279.76,224.90 L280.55,224.60 L281.34,224.29 L282.13,223.97 L282.91,223.65 L283.70,223.33 L284.48,223.00 L285.26,222.66 L286.03,222.32 L286.81,221.98 L287.58,221.63 L288.35,221.28 L289.11,220.92 L289.88,220.55 L290.64,220.19 L291.40,219.81 L292.16,219.43 L292.91,219.05 L293.66,218.66 L294.41,218.27 L295.16,217.87 L295.91,217.47 L296.65,217.07 L297.39,216.66 L298.12,216.24 L298.86,215.82 L299.59,215.39 L300.32,214.97 L301.04,214.53 L301.77,214.09 L302.49,213.65 L303.21,213.20 L303.92,212.75 L304.64,212.30 L305.35,211.84 L306.06,211.37 L306.76,210.91 L307.47,210.43 L308.17,209.96 L308.86,209.48 L309.56,208.99 L310.25,208.51 L310.94,208.02 L311.63,207.52 L312.31,207.02 L312.99,206.52 L313.67,206.01 L314.35,205.50 L315.02,204.99 L315.70,204.47 L316.36,203.95 L317.03,203.43 L317.69,202.90 L318.35,202.37 L319.01,201.83 L319.67,201.29 L320.32,200.75 L320.97,200.21 L321.62,199.66 L322.27,199.11 L322.91,198.55 L323.55,197.99 L324.19,197.43 L324.82,196.87 L325.46,196.30 L326.09,195.73 L326.71,195.15 L327.34,194.58 L327.96,194.00 L328.58,193.42 L329.20,192.83 L329.81,192.24 L330.42,191.65 L331.03,191.06 L331.64,190.46 L332.24,189.86 L332.85,189.26 L333.45,188.65 L334.04,188.05 L334.64,187.44 L335.23,186.82 L335.82,186.21 L336.40,185.59 L336.99,184.97 L337.57,184.35 L338.15,183.72 L338.73,183.10 L339.30,182.47 L339.87,181.84 L340.44,181.20 L341.01,180.56 L341.57,179.93 L342.13,179.29 L342.69,178.64 L343.25,178.00 L343.80,177.35 L344.35,176.70 L344.90,176.05 L345.45,175.40 L345.99,174.74 L346.53,174.09 L347.07,173.43 L347.61,172.77 L348.14,172.11 L348.68,171.44 L349.20,170.78 L349.73,170.11 L350.26,169.44 L350.78,168.77 L351.30,168.10 L351.81,167.43 L352.33,166.75 L352.84,166.07 L353.35,165.40 L353.86,164.72 L354.36,164.04 L354.86,163.35 L355.36,162.67 L355.86,161.99 L356.35,161.30 L356.85,160.61 L357.34,159.93 L357.82,159.24 L358.31,158.55 L358.79,157.85 L359.27,157.16 L359.75,156.47 L360.22,155.77 L360.70,155.08 L361.17,154.38 L361.64,153.69 L362.10,152.99 L362.56,152.29 L363.03,151.59" stroke="#0f0" stroke-dasharray="9 3.9"/>
<path d="M224.97,288.25 L225.98,288.19 L226.99,288.13 L228.01,288.05 L229.02,287.97 L230.03,287.88 L231.04,287.79 L232.06,287.69 L233.07,287.58 L234.08,287.46 L235.09,287.33 L236.10,287.20 L237.12,287.06 L238.13,286.92 L239.14,286.76 L240.15,286.60 L241.15,286.43 L242.16,286.26 L243.17,286.07 L244.17,285.88 L245.18,285.68 L246.18,285.48 L247.18,285.26 L248.18,285.04 L249.18,284.81 L250.17,284.58 L251.17,284.33 L252.16,284.08 L253.15,283.82 L254.14,283.56 L255.13,283.28 L256.11,283.00 L257.09,282.71 L258.07,282.41 L259.05,282.11 L260.02,281.79 L260.99,281.47 L261.96,281.15 L262.92,280.81 L263.88,280.47 L264.84,280.11 L265.80,279.76 L266.75,279.39 L267.70,279.01 L268.64,278.63 L269.58,278.24 L270.52,277.84 L271.45,277.43 L272.38,277.02 L273.31,276.60 L274.23,276.17 L275.14,275.73 L276.06,275.28 L276.96,274.83 L277.87,274.37 L278.77,273.90 L279.66,273.42 L280.55,272.93 L281.43,272.44 L282.31,271.94 L283.19,271.43 L284.06,270.91 L284.93,270.39 L285.79,269.86 L286.64,269.32 L287.50,268.77 L288.34,268.22 L289.19,267.66 L290.02,267.09 L290.86,266.52 L291.69,265.94 L292.51,265.35 L293.33,264.76 L294.15,264.16 L294.96,263.55 L295.77,262.94 L296.57,262.32 L297.37,261.69 L298.16,261.06 L298.95,260.43 L299.73,259.78 L300.51,259.13 L301.29,258.48 L302.06,257.82 L302.83,257.15 L303.59,256.48 L304.35,255.80 L305.10,255.12 L305.85,254.43 L306.60,253.74 L307.34,253.04 L308.07,252.34 L308.81,251.63 L309.53,250.92 L310.26,250.20 L310.98,249.48 L311.69,248.76 L312.40,248.03 L313.11,247.29 L313.81,246.55 L314.51,245.81 L315.21,245.06 L315.90,244.31 L316.58,243.55 L317.26,242.79 L317.94,242.03 L318.61,241.26 L319.28,240.49 L319.95,239.72 L320.61,238.94 L321.27,238.16 L321.92,237.38 L322.57,236.59 L323.21,235.80 L323.86,235.01 L324.49,234.21 L325.13,233.41 L325.75,232.60 L326.38,231.80 L327.00,230.99 L327.62,230.18 L328.23,229.36 L328.84,228.54 L329.45,227.72 L330.05,226.90 L330.65,226.07 L331.24,225.24 L331.83,224.41 L332.42,223.57 L333.00,222.73 L333.58,221.89 L334.16,221.05 L334.73,220.21 L335.30,219.36 L335.86,218.51 L336.42,217.66 L336.98,216.80 L337.54,215.94 L338.09,215.09 L338.63,214.22 L339.18,213.36 L339.72,212.50 L340.25,211.63 L340.78,210.76 L341.31,209.89 L341.84,209.02 L342.36,208.14 L342.88,207.26 L343.40,206.39 L343.91,205.51 L344.42,204.62 L344.92,203.74 L345.42,202.85 L345.92,201.97 L346.41,201.08 L346.90,200.19 L347.39,199.29 L347.87,198.40 L348.35,197.50 L348.83,196.60 L349.30,195.70 L349.77,194.80 L350.23,193.90 L350.69,192.99 L351.14,192.08 L351.60,191.17 L352.04,190.26 L352.49,189.34 L352.92,188.43 L353.36,187.51 L353.79,186.59 L354.21,185.67 L354.64,184.74 L355.05,183.82 L355.47,182.89 L355.87,181.96 L356.28,181.03 L356.68,180.09 L357.07,179.16 L357.46,178.22 L357.85,177.28 L358.23,176.34 L358.60,175.39 L358.97,174.45 L359.34,173.50 L359.70,172.55 L360.06,171.60 L360.41,170.64 L360.76,169.68 L361.10,168.72 L361.43,167.76 L361.77,166.80 L362.09,165.83 L362.41,164.87 L362.73,163.90 L363.04,162.92 L363.35,161.95 L363.65,160.97 L363.94,159.99 L364.23,159.01" stroke="#00f" stroke-dasharray="4.8 6"/>
</g>
<!-- frames -->
<rect x="58.5" y="4.5" width="319.9" height="319.9" fill="none" stroke="#000" stroke-width="1"/>
<path d="M111.82,324.4 v-4.5 M111.82,4.5 v4.5 M165.13,324.4 v-4.5 M165.13,4.5 v4.5 M218.45,324.4 v-4.5 M218.45,4.5 v4.5 M271.77,324.4 v-4.5 M271.77,4.5 v4.5 M325.08,324.4 v-4.5 M325.08,4.5 v4.5 M58.5,292.41 h4.5 M378.4,292.41 h-4.5 M58.5,260.42 h4.5 M378.4,260.42 h-4.5 M58.5,228.43 h4.5 M378.4,228.43 h-4.5 M58.5,196.44 h4.5 M378.4,196.44 h-4.5 M58.5,164.45 h4.5 M378.4,164.45 h-4.5 M58.5,132.46 h4.5 M378.4,132.46 h-4.5 M58.5,100.47 h4.5 M378.4,100.47 h-4.5 M58.5,68.48 h4.5 M378.4,68.48 h-4.5 M58.5,36.49 h4.5 M378.4,36.49 h-4.5" stroke="#000" stroke-width="0.8" fill="none"/>
<rect x="225.0" y="154.1" width="139.2" height="139.1" fill="none" stroke="#000" stroke-width="0.9"/>
<path d="M252.84,293.2 v-4.5 M252.84,154.1 v4.5 M280.68,293.2 v-4.5 M280.68,154.1 v4.5 M308.52,293.2 v-4.5 M308.52,154.1 v4.5 M336.36,293.2 v-4.5 M336.36,154.1 v4.5 M225.0,275.00 h2.3 M364.2,275.00 h-2.3 M225.0,264.36 h2.3 M364.2,264.36 h-2.3 M225.0,256.80 h2.3 M364.2,256.80 h-2.3 M225.0,250.95 h2.3 M364.2,250.95 h-2.3 M225.0,246.16 h2.3 M364.2,246.16 h-2.3 M225.0,242.11 h2.3 M364.2,242.11 h-2.3 M225.0,238.61 h2.3 M364.2,238.61 h-2.3 M225.0,235.51 h2.3 M364.2,235.51 h-2.3 M225.0,232.75 h4.5 M364.2,232.75 h-4.5 M225.0,214.55 h2.3 M364.2,214.55 h-2.3 M225.0,203.91 h2.3 M364.2,203.91 h-2.3 M225.0,196.35 h2.3 M364.2,196.35 h-2.3 M225.0,190.50 h2.3 M364.2,190.50 h-2.3 M225.0,185.71 h2.3 M364.2,185.71 h-2.3 M225.0,181.66 h2.3 M364.2,181.66 h-2.3 M225.0,178.16 h2.3 M364.2,178.16 h-2.3 M225.0,175.06 h2.3 M364.2,175.06 h-2.3 M225.0,172.30 h4.5 M364.2,172.30 h-4.5" stroke="#000" stroke-width="0.75" fill="none"/>
<!-- legend -->
<g fill="none" stroke-width="1.1">
<path d="M81.2,17.1 H117.1" stroke="#f00"/>
<path d="M81.2,33.5 H117.1" stroke="#0f0" stroke-dasharray="9 3.9"/>
<path d="M81.2,49.9 H117.1" stroke="#00f" stroke-dasharray="4.8 6"/>
</g>
<text transform="translate(126.26,20.80) scale(1.004,1)" style="font-size:13.2px;font-style:italic">L</text>
<path d="M137.8,15.90 H146.0 M137.8,18.60 H146.0" stroke="#000" stroke-width="0.8" fill="none"/>
<text transform="translate(151.51,20.80) scale(1.162,1)" style="font-size:12px;font-style:italic">v</text>
<text transform="translate(158.86,21.70) scale(1.293,1)" style="font-size:8.3px;font-style:italic">F</text>
<path d="M168.2,23.5 L172.5,11.3" stroke="#000" stroke-width="0.85" fill="none"/>
<path d="M174.20,20.80 L178.70,11.80 L179.60,11.80 L183.80,20.80 Z M175.20,20.00 L178.75,13.90 L181.80,20.00 Z" fill="#000" fill-rule="evenodd" stroke="none"/>
<text transform="translate(126.26,37.10) scale(1.004,1)" style="font-size:13.2px;font-style:italic">L</text>
<path d="M137.8,32.20 H146.0 M137.8,34.90 H146.0" stroke="#000" stroke-width="0.8" fill="none"/>
<text transform="translate(151.93,37.10) scale(0.983,1)" style="font-size:13.2px;font-style:normal">2</text>
<text transform="translate(157.96,37.10) scale(1.162,1)" style="font-size:12px;font-style:italic">v</text>
<text transform="translate(165.31,38.00) scale(1.293,1)" style="font-size:8.3px;font-style:italic">F</text>
<path d="M174.64999999999998,39.800000000000004 L178.95,27.6" stroke="#000" stroke-width="0.85" fill="none"/>
<path d="M180.65,37.10 L185.15,28.10 L186.05,28.10 L190.25,37.10 Z M181.65,36.30 L185.20,30.20 L188.25,36.30 Z" fill="#000" fill-rule="evenodd" stroke="none"/>
<text transform="translate(126.26,53.40) scale(1.004,1)" style="font-size:13.2px;font-style:italic">L</text>
<path d="M137.8,48.50 H146.0 M137.8,51.20 H146.0" stroke="#000" stroke-width="0.8" fill="none"/>
<text transform="translate(151.90,53.40) scale(0.954,1)" style="font-size:13.2px;font-style:normal">3</text>
<text transform="translate(157.96,53.40) scale(1.162,1)" style="font-size:12px;font-style:italic">v</text>
<text transform="translate(165.31,54.30) scale(1.293,1)" style="font-size:8.3px;font-style:italic">F</text>
<path d="M174.64999999999998,56.1 L178.95,43.9" stroke="#000" stroke-width="0.85" fill="none"/>
<path d="M180.65,53.40 L185.15,44.40 L186.05,44.40 L190.25,53.40 Z M181.65,52.60 L185.20,46.50 L188.25,52.60 Z" fill="#000" fill-rule="evenodd" stroke="none"/>
<text transform="translate(105.85,85.80) scale(1.034,1)" style="font-size:13.2px;font-style:italic">D</text>
<text transform="translate(116.18,87.60) scale(0.936,1)" style="font-size:8.8px;font-style:normal">1</text>
<path d="M126.2,80.90 H135.0 M126.2,83.70 H135.0" stroke="#000" stroke-width="0.8" fill="none"/>
<text transform="translate(138.99,85.80) scale(1.008,1)" style="font-size:13.2px;font-style:normal">0.5</text>
<text transform="translate(105.85,101.80) scale(1.034,1)" style="font-size:13.2px;font-style:italic">D</text>
<text transform="translate(115.96,103.60) scale(1.134,1)" style="font-size:8.8px;font-style:normal">2</text>
<path d="M126.2,96.90 H135.0 M126.2,99.70 H135.0" stroke="#000" stroke-width="0.8" fill="none"/>
<text transform="translate(138.99,101.80) scale(1.007,1)" style="font-size:13.2px;font-style:normal">0.8</text>
<!-- tick labels -->
<text transform="translate(50.70,329.10) scale(0.94,1)" text-anchor="end">0</text>
<text transform="translate(50.70,297.11) scale(0.94,1)" text-anchor="end">0.1</text>
<text transform="translate(50.70,265.12) scale(0.94,1)" text-anchor="end">0.2</text>
<text transform="translate(50.70,233.13) scale(0.94,1)" text-anchor="end">0.3</text>
<text transform="translate(50.70,201.14) scale(0.94,1)" text-anchor="end">0.4</text>
<text transform="translate(50.70,169.15) scale(0.94,1)" text-anchor="end">0.5</text>
<text transform="translate(50.70,137.16) scale(0.94,1)" text-anchor="end">0.6</text>
<text transform="translate(50.70,105.17) scale(0.94,1)" text-anchor="end">0.7</text>
<text transform="translate(50.70,73.18) scale(0.94,1)" text-anchor="end">0.8</text>
<text transform="translate(50.70,41.19) scale(0.94,1)" text-anchor="end">0.9</text>
<text transform="translate(50.70,9.20) scale(0.94,1)" text-anchor="end">1</text>
<text transform="translate(59.90,341.70) scale(0.94,1)" text-anchor="middle">0</text>
<text transform="translate(113.22,341.70) scale(0.94,1)" text-anchor="middle">0.5</text>
<text transform="translate(166.53,341.70) scale(0.94,1)" text-anchor="middle">1</text>
<text transform="translate(219.85,341.70) scale(0.94,1)" text-anchor="middle">1.5</text>
<text transform="translate(273.17,341.70) scale(0.94,1)" text-anchor="middle">2</text>
<text transform="translate(326.48,341.70) scale(0.94,1)" text-anchor="middle">2.5</text>
<text transform="translate(379.80,341.70) scale(0.94,1)" text-anchor="middle">3</text>
<text transform="translate(217.30,177.50) scale(0.94,1)" text-anchor="end">0.1</text>
<text transform="translate(217.30,237.95) scale(0.94,1)" text-anchor="end">0.01</text>
<text transform="translate(217.30,298.40) scale(0.94,1)" text-anchor="end">0.001</text>
<text transform="translate(226.40,310.60) scale(0.94,1)" text-anchor="middle">0</text>
<text transform="translate(254.24,310.60) scale(0.94,1)" text-anchor="middle">0.2</text>
<text transform="translate(282.08,310.60) scale(0.94,1)" text-anchor="middle">0.4</text>
<text transform="translate(309.92,310.60) scale(0.94,1)" text-anchor="middle">0.6</text>
<text transform="translate(337.76,310.60) scale(0.94,1)" text-anchor="middle">0.8</text>
<text transform="translate(365.60,310.60) scale(0.94,1)" text-anchor="middle">1</text>
<text transform="translate(200.78,353.60) scale(1.044,1)" style="font-size:13px;font-style:italic">e</text>
<text transform="translate(206.78,353.60) scale(1.057,1)" style="font-size:13px;font-style:italic">V</text>
<text transform="translate(215.53,355.30) scale(1.247,1)" style="font-size:8.6px;font-style:normal">2</text>
<path d="M221.2,356.8 L225.8,343.90000000000003" stroke="#000" stroke-width="0.7" fill="none"/>
<path d="M227.00,353.60 L231.55,345.00 L232.45,345.00 L236.70,353.60 Z M228.00,352.80 L231.60,347.10 L234.70,352.80 Z" fill="#000" fill-rule="evenodd" stroke="none"/>
<g transform="rotate(-90)">
<path d="M-185.9,14.1 H-178.5" stroke="#000" stroke-width="0.65" fill="none"/>
<path d="M-175.6,14.3 H-145.4 M-141.8,14.3 H-117.5" stroke="#000" stroke-width="1" fill="none"/>
<text transform="translate(-164.60,9.00) scale(1.100,1)" style="font-size:12.4px;font-style:normal">1</text>
<text transform="translate(-175.66,25.70) scale(1.029,1)" style="font-size:13.4px;font-style:italic">G</text>
<text transform="translate(-165.31,28.50) scale(1.121,1)" style="font-size:10.4px;font-style:italic">N</text>
<text transform="translate(-156.86,30.00) scale(1.361,1)" style="font-size:7.2px;font-style:normal">12</text>
<text transform="translate(-141.12,8.80) scale(1.429,1)" style="font-size:11px;font-style:italic">∂</text>
<text transform="translate(-132.33,8.80) scale(1.351,1)" style="font-size:12.6px;font-style:italic">I</text>
<text transform="translate(-125.72,10.50) scale(0.996,1)" style="font-size:8.2px;font-style:normal">12</text>
<text transform="translate(-141.52,24.60) scale(1.429,1)" style="font-size:11px;font-style:italic">∂</text>
<text transform="translate(-134.55,24.60) scale(1.158,1)" style="font-size:12.4px;font-style:italic">V</text>
<text transform="translate(-124.47,27.40) scale(1.277,1)" style="font-size:8.4px;font-style:normal">2</text>
</g>
</svg>
</body></html>
